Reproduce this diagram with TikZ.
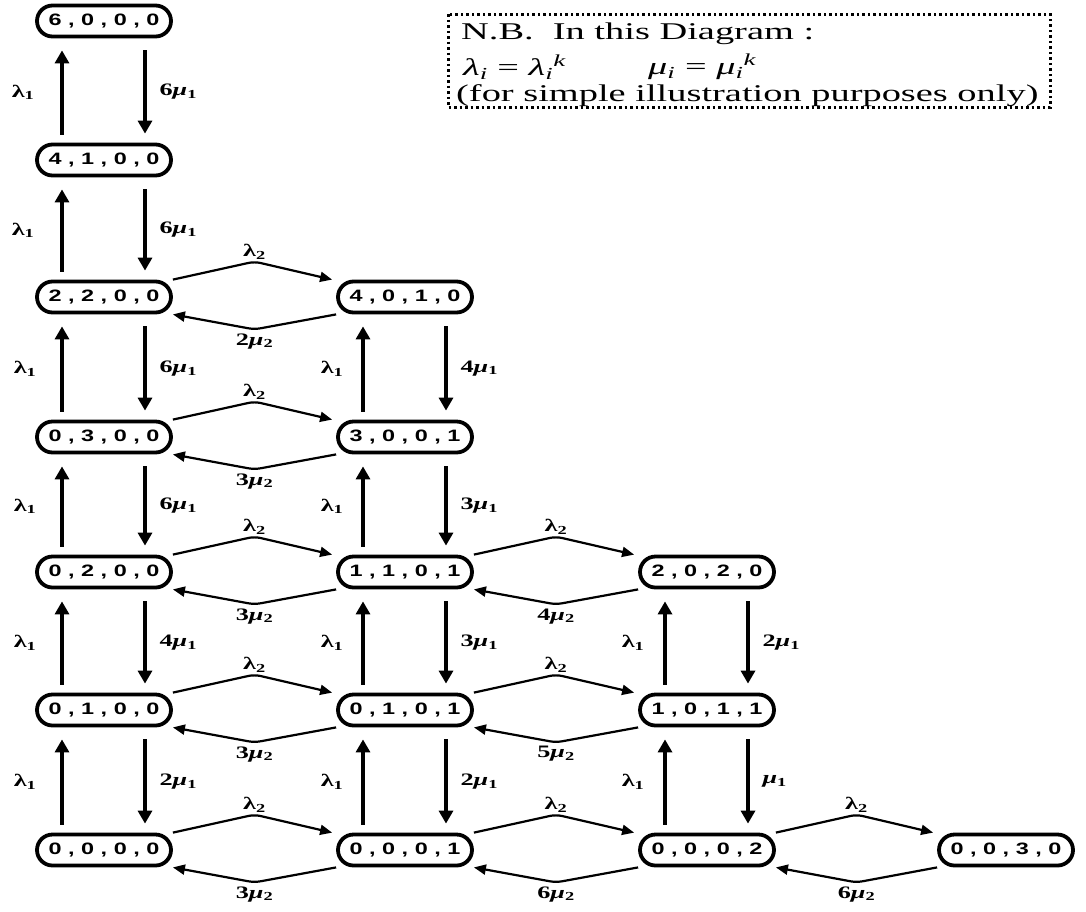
\documentclass[tikz,border=0pt]{standalone}
\usepackage{fontspec}
\usetikzlibrary{arrows.meta,calc}
\newfontfamily\stfont[FakeStretch=1.42]{Liberation Sans}
\newfontfamily\lbfont[FakeStretch=1.5]{Liberation Serif}
\newfontfamily\nbfont[FakeStretch=1.6]{Liberation Serif}
\newcommand\lamA{λ\textsubscript{1}}
\newcommand\lamB{λ\textsubscript{2}}
\newcommand\mymu[2]{#1{\itshape μ}\textsubscript{#2}}
\begin{document}
\begin{tikzpicture}[x=1pt,y=-1pt,
  state/.style={draw, line width=3.8pt, rounded corners=15.5pt, minimum width=134pt,
    minimum height=31pt, inner sep=0pt, font=\stfont\fontsize{16.5}{16.5}\selectfont\bfseries},
  vup/.style={line width=3.2pt, -{Triangle[length=13pt,width=14pt]}},
  hor/.style={line width=2.2pt, -{Triangle[length=12pt,width=10pt]}, rounded corners=6pt},
  lab/.style={font=\lbfont\fontsize{17.5}{17.5}\selectfont\bfseries, inner sep=1pt},
  nbt/.style={font=\nbfont\fontsize{24}{26}\selectfont, inner sep=0pt},
]
\useasboundingbox (0,0) rectangle (1086,911);
% nodes
\node[state] (a0) at (104,21)  {6 , 0 , 0 , 0};
\node[state] (a1) at (104,160) {4 , 1 , 0 , 0};
\node[state] (a2) at (104,297) {2 , 2 , 0 , 0};
\node[state] (a3) at (104,437) {0 , 3 , 0 , 0};
\node[state] (a4) at (104,572) {0 , 2 , 0 , 0};
\node[state] (a5) at (104,710) {0 , 1 , 0 , 0};
\node[state] (a6) at (104,850) {0 , 0 , 0 , 0};
\node[state] (b2) at (405,297) {4 , 0 , 1 , 0};
\node[state] (b3) at (405,437) {3 , 0 , 0 , 1};
\node[state] (b4) at (405,572) {1 , 1 , 0 , 1};
\node[state] (b5) at (405,710) {0 , 1 , 0 , 1};
\node[state] (b6) at (405,850) {0 , 0 , 0 , 1};
\node[state] (c4) at (707,572) {2 , 0 , 2 , 0};
\node[state] (c5) at (707,710) {1 , 0 , 1 , 1};
\node[state] (c6) at (707,850) {0 , 0 , 0 , 2};
\node[state] (d6) at (1006,850) {0 , 0 , 3 , 0};
% vertical arrows
\foreach \u/\l/\m/\g in {a0/a1/\mymu{6}{1}/25, a1/a2/\mymu{6}{1}/25, a2/a3/\mymu{6}{1}/23, a3/a4/\mymu{6}{1}/23,
  a4/a5/\mymu{4}{1}/23, a5/a6/\mymu{2}{1}/23, b2/b3/\mymu{4}{1}/17, b3/b4/\mymu{3}{1}/17, b4/b5/\mymu{3}{1}/17,
  b5/b6/\mymu{2}{1}/17, c4/c5/\mymu{2}{1}/18, c5/c6/\mymu{}{1}/18}{
  \draw[vup] ([xshift=-42pt,yshift=8pt]\l.north) -- node[midway,left=\g pt,lab]{\lamA} ([xshift=-42pt,yshift=-12pt]\u.south);
  \draw[vup] ([xshift=41pt,yshift=-12pt]\u.south) -- node[midway,right=12pt,lab]{\m} ([xshift=41pt,yshift=9pt]\l.north);
}
% horizontal arrows
\foreach \p/\q/\m in {a2/b2/\mymu{2}{2}, a3/b3/\mymu{3}{2}, a4/b4/\mymu{3}{2}, a5/b5/\mymu{3}{2},
  a6/b6/\mymu{3}{2}, b4/c4/\mymu{4}{2}, b5/c5/\mymu{5}{2}, b6/c6/\mymu{6}{2}, c6/d6/\mymu{6}{2}}{
  \draw[hor] (\p.north east) -- ($(\p.north east)!0.5!(\q.north west)+(0,-18)$) node[above=0pt,lab]{\lamB}
    -- ([xshift=-4pt]\q.north west);
  \draw[hor] (\q.south west) -- ($(\p.south east)!0.5!(\q.south west)+(0,15)$) node[below=2pt,lab]{\m}
    -- (\p.south east);
}
% N.B. box
\draw[line width=3pt, dash pattern=on 2.5pt off 3pt] (448,14) rectangle (1050,107);
\node[nbt, anchor=west] (nb1) at (461,34) {N.B.\ \ In this Diagram :};
\node[nbt, anchor=west] (nb2) at (463,67) {\itshape λ\textsubscript{i} {\upshape =} λ\textsubscript{i}\textsuperscript{k}};
\node[nbt, anchor=west] (nb3) at (648,67) {\itshape μ\textsubscript{i} {\upshape =} μ\textsubscript{i}\textsuperscript{k}};
\node[nbt, anchor=west] (nb4) at (456,96) {(for simple illustration purposes only)};
\end{tikzpicture}
\end{document}
